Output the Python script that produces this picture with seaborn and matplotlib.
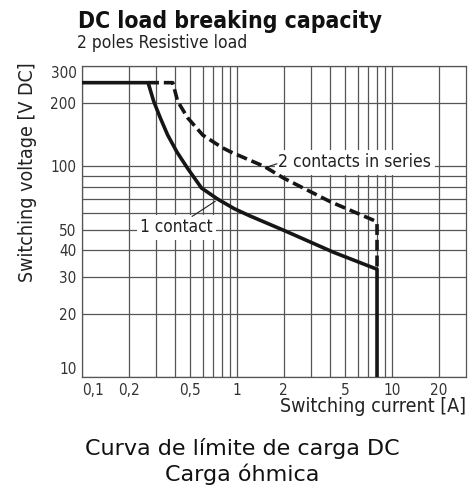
import matplotlib
matplotlib.use("Agg")
import matplotlib.pyplot as plt
from matplotlib.ticker import NullFormatter
import seaborn as sns
import pandas as pd

# ---- data ----
one_contact_current = [0.1, 0.267, 0.290, 0.320, 0.357, 0.410, 0.481, 0.59, 0.75, 0.96, 1.2, 2.02, 4.2, 8.0, 8.0]
one_contact_voltage = [250, 250, 204, 170, 141, 117, 97.7, 79, 70, 63, 58.4, 49.6, 39.1, 32.5, 10]

two_series_current = [0.267, 0.385, 0.414, 0.481, 0.601, 0.80, 0.915, 1.5, 2.0, 4.0, 7.7, 8.0, 8.0]
two_series_voltage = [250, 250, 204, 170, 141, 123, 117, 100, 88, 68, 55.3, 53.5, 32.5]

x_major = [0.1, 0.2, 0.5, 1, 2, 5, 10, 20]
x_major_labels = ["0,1", "0,2", "0,5", "1", "2", "5", "10", "20"]
x_minor = [0.3, 0.4, 0.6, 0.7, 0.8, 0.9, 3, 4, 6, 7, 8, 9]
y_major = [10, 20, 30, 40, 50, 100, 200, 300]
y_major_labels = ["10", "20", "30", "40", "50", "100", "200", "300"]
y_minor = [60, 70, 80, 90]

label_one = "1 contact"
label_one_text_at = (0.238, 51.3)
label_one_point = (0.725, 68.4)
label_one_tail = (0.513, 57.9)
label_two = "2 contacts in series"
label_two_text_at = (1.85, 104.5)
label_two_point = (1.52, 98.6)
label_two_tail = (1.81, 103)

title = "DC load breaking capacity"
subtitle = "2 poles Resistive load"
ylabel = "Switching voltage [V DC]"
xlabel = "Switching current [A]"
caption1 = "Curva de límite de carga DC"
caption2 = "Carga óhmica"

# ---- style ----
sns.set_style("white")
plt.rcParams["font.family"] = ["DejaVu Sans"]
plt.rcParams["font.stretch"] = "condensed"

df_one = pd.DataFrame({"I": one_contact_current, "V": one_contact_voltage})
df_two = pd.DataFrame({"I": two_series_current, "V": two_series_voltage})

W, H = 476, 495
fig = plt.figure(figsize=(W / 100, H / 100), dpi=100)
ax = fig.add_axes([82 / W, 1 - 377 / H, 384 / W, 311 / H])

sns.lineplot(data=df_two, x="I", y="V", sort=False, estimator=None, ax=ax,
             color="#161616", linewidth=2.6, linestyle=(0, (3.0, 1.35)),
             zorder=4)
sns.lineplot(data=df_one, x="I", y="V", sort=False, estimator=None, ax=ax,
             color="#161616", linewidth=2.6, zorder=5)

ax.set_xscale("log")
ax.set_yscale("log")
ax.set_xlim(0.1, 30)
ax.set_ylim(10, 300)

ax.set_xticks(x_major)
ax.set_xticklabels(x_major_labels)
ax.set_xticks(x_minor, minor=True)
ax.xaxis.set_minor_formatter(NullFormatter())
ax.set_yticks(y_major)
ax.set_yticklabels(y_major_labels)
ax.set_yticks(y_minor, minor=True)
ax.yaxis.set_minor_formatter(NullFormatter())

ax.grid(True, which="both", color="#555555", linewidth=0.9)
ax.set_axisbelow(True)
ax.tick_params(which="both", length=0, labelsize=11, labelcolor="#333333", pad=4)
for s in ax.spines.values():
    s.set_color("#555555")
    s.set_linewidth(0.9)
ax.set_xlabel("")
ax.set_ylabel("")

xl = ax.get_xticklabels()
xl[0].set_ha("left")
yl = ax.get_yticklabels()
yl[0].set_va("bottom")
yl[-1].set_va("top")

# annotations
bbox = dict(facecolor="white", edgecolor="none", pad=2.5)
ax.text(*label_one_text_at, label_one, ha="left", va="center", fontsize=12.4,
        color="#222222", bbox=bbox, zorder=3)
ax.annotate("", xy=label_one_point, xytext=label_one_tail,
            arrowprops=dict(arrowstyle="-", color="#222222", lw=0.8,
                            shrinkA=0, shrinkB=0), zorder=3)
ax.text(*label_two_text_at, label_two, ha="left", va="center", fontsize=12.6,
        color="#222222", bbox=bbox, zorder=3)
ax.annotate("", xy=label_two_tail, xytext=label_two_point,
            arrowprops=dict(arrowstyle="-", color="#222222", lw=0.8,
                            shrinkA=0, shrinkB=0), zorder=3)

# titles / labels
fig.text(78 / W, 1 - 28 / H, title, ha="left", va="baseline", fontsize=16.5,
         fontweight="bold", color="#111111")
fig.text(77 / W, 1 - 48 / H, subtitle, ha="left", va="baseline", fontsize=12.5,
         color="#222222")
fig.text(28 / W, 1 - 172 / H, ylabel, rotation=90, ha="center", va="center",
         fontsize=14, color="#222222")
fig.text(466 / W, 1 - 406 / H, xlabel, ha="right", va="center",
         fontsize=14, color="#222222")
fig.text(242 / W, 1 - 455 / H, caption1, ha="center", va="baseline",
         fontsize=16, stretch="normal", color="#111111")
fig.text(242 / W, 1 - 481 / H, caption2, ha="center", va="baseline",
         fontsize=16, stretch="normal", color="#111111")

fig.savefig("out.png", dpi=100)
